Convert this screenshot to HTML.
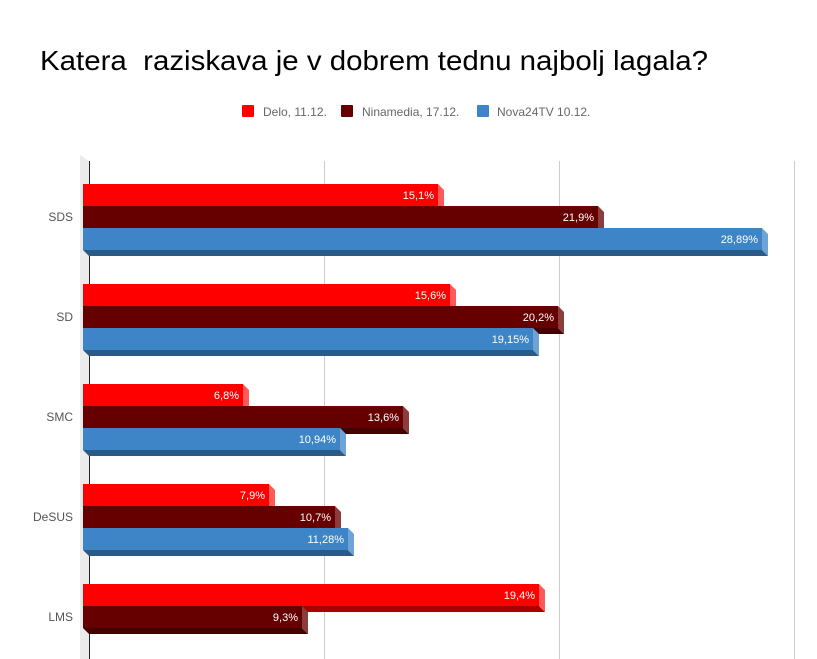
<!DOCTYPE html>
<html><head><meta charset="utf-8"><style>
body{margin:0;background:#fff}
svg{display:block;font-family:"Liberation Sans",Roboto,sans-serif}
.v{fill:#fff;font-size:11px;text-anchor:end}
.c{fill:#555;font-size:12px;text-anchor:end}
.l{fill:#666;font-size:12px}
</style></head><body>
<svg width="817" height="659" viewBox="0 0 817 659">
<rect width="817" height="659" fill="#fff"/>
<text x="40" y="70" font-size="28" fill="#000" textLength="668" lengthAdjust="spacingAndGlyphs">Katera&#160; raziskava je v dobrem tednu najbolj lagala?</text>
<rect x="242" y="105" width="12" height="12" rx="1" fill="#f00"/><text class="l" x="263" y="116">Delo, 11.12.</text>
<rect x="341" y="105" width="12" height="12" rx="1" fill="#600"/><text class="l" x="362" y="116">Ninamedia, 17.12.</text>
<rect x="477" y="105" width="12" height="12" rx="1" fill="#3d85c6"/><text class="l" x="497" y="116">Nova24TV 10.12.</text>
<polygon points="80,155 89,161 89,659 80,659" fill="#ebebeb"/>
<line x1="324.5" y1="161" x2="324.5" y2="659" stroke="#ccc"/>
<line x1="559.5" y1="161" x2="559.5" y2="659" stroke="#ccc"/>
<line x1="794.5" y1="161" x2="794.5" y2="659" stroke="#ccc"/>
<line x1="89.5" y1="161" x2="89.5" y2="659" stroke="#222"/>
<g>
<polygon points="83,206 438,206 444,212 89,212" fill="#a00"/><polygon points="438,184 444,190 444,212 438,206" fill="#ff5a5a"/><rect x="83" y="184" width="355" height="22" fill="#f00"/><text class="v" x="434" y="199">15,1%</text>
<polygon points="83,228 598,228 604,234 89,234" fill="#400"/><polygon points="598,206 604,212 604,234 598,228" fill="#8c3c3c"/><rect x="83" y="206" width="515" height="22" fill="#600"/><text class="v" x="594" y="221">21,9%</text>
<polygon points="83,250 762,250 768,256 89,256" fill="#2a5a85"/><polygon points="762,228 768,234 768,256 762,250" fill="#6fa3d6"/><rect x="83" y="228" width="679" height="22" fill="#3d85c6"/><text class="v" x="758" y="243">28,89%</text>
<polygon points="83,306 450,306 456,312 89,312" fill="#a00"/><polygon points="450,284 456,290 456,312 450,306" fill="#ff5a5a"/><rect x="83" y="284" width="367" height="22" fill="#f00"/><text class="v" x="446" y="299">15,6%</text>
<polygon points="83,328 558,328 564,334 89,334" fill="#400"/><polygon points="558,306 564,312 564,334 558,328" fill="#8c3c3c"/><rect x="83" y="306" width="475" height="22" fill="#600"/><text class="v" x="554" y="321">20,2%</text>
<polygon points="83,350 533,350 539,356 89,356" fill="#2a5a85"/><polygon points="533,328 539,334 539,356 533,350" fill="#6fa3d6"/><rect x="83" y="328" width="450" height="22" fill="#3d85c6"/><text class="v" x="529" y="343">19,15%</text>
<polygon points="83,406 243,406 249,412 89,412" fill="#a00"/><polygon points="243,384 249,390 249,412 243,406" fill="#ff5a5a"/><rect x="83" y="384" width="160" height="22" fill="#f00"/><text class="v" x="239" y="399">6,8%</text>
<polygon points="83,428 403,428 409,434 89,434" fill="#400"/><polygon points="403,406 409,412 409,434 403,428" fill="#8c3c3c"/><rect x="83" y="406" width="320" height="22" fill="#600"/><text class="v" x="399" y="421">13,6%</text>
<polygon points="83,450 340,450 346,456 89,456" fill="#2a5a85"/><polygon points="340,428 346,434 346,456 340,450" fill="#6fa3d6"/><rect x="83" y="428" width="257" height="22" fill="#3d85c6"/><text class="v" x="336" y="443">10,94%</text>
<polygon points="83,506 269,506 275,512 89,512" fill="#a00"/><polygon points="269,484 275,490 275,512 269,506" fill="#ff5a5a"/><rect x="83" y="484" width="186" height="22" fill="#f00"/><text class="v" x="265" y="499">7,9%</text>
<polygon points="83,528 335,528 341,534 89,534" fill="#400"/><polygon points="335,506 341,512 341,534 335,528" fill="#8c3c3c"/><rect x="83" y="506" width="252" height="22" fill="#600"/><text class="v" x="331" y="521">10,7%</text>
<polygon points="83,550 348,550 354,556 89,556" fill="#2a5a85"/><polygon points="348,528 354,534 354,556 348,550" fill="#6fa3d6"/><rect x="83" y="528" width="265" height="22" fill="#3d85c6"/><text class="v" x="344" y="543">11,28%</text>
<polygon points="83,606 539,606 545,612 89,612" fill="#a00"/><polygon points="539,584 545,590 545,612 539,606" fill="#ff5a5a"/><rect x="83" y="584" width="456" height="22" fill="#f00"/><text class="v" x="535" y="599">19,4%</text>
<polygon points="83,628 302,628 308,634 89,634" fill="#400"/><polygon points="302,606 308,612 308,634 302,628" fill="#8c3c3c"/><rect x="83" y="606" width="219" height="22" fill="#600"/><text class="v" x="298" y="621">9,3%</text>
</g>
<text class="c" x="73" y="221">SDS</text>
<text class="c" x="73" y="321">SD</text>
<text class="c" x="73" y="421">SMC</text>
<text class="c" x="73" y="521">DeSUS</text>
<text class="c" x="73" y="621">LMS</text>
</svg>
</body></html>
